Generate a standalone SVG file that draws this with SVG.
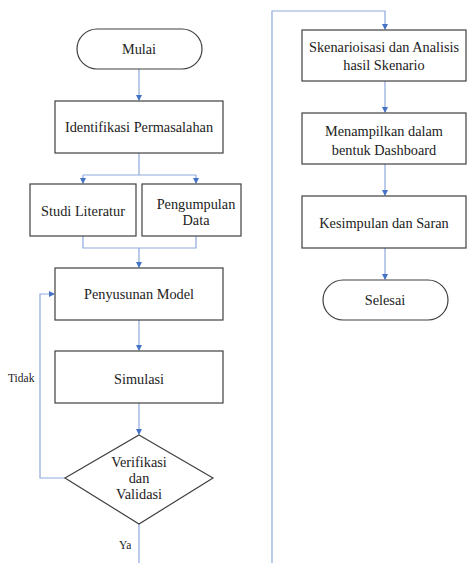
<svg xmlns="http://www.w3.org/2000/svg" width="467" height="563" viewBox="0 0 467 563">
<defs>
<marker id="ah" markerWidth="6" markerHeight="6" refX="5" refY="3" orient="auto" markerUnits="userSpaceOnUse">
<path d="M0,0 L6,3 L0,6 z" fill="#4472C4"/>
</marker>
<style>
.n{fill:#fff;stroke:#404040;stroke-width:1.2}
.c{fill:none;stroke:#8EA9DB;stroke-width:1.2}
</style>
</defs>
<rect width="467" height="563" fill="#fff"/>
<g id="connectors">
<path class="c" d="M139,69 V100" marker-end="url(#ah)"/>
<path class="c" d="M139,153 V175 M83,175 H196"/>
<path class="c" d="M83,175 V183" marker-end="url(#ah)"/>
<path class="c" d="M196,175 V183" marker-end="url(#ah)"/>
<path class="c" d="M83,236 V248 H196 V236 M139,248 V267" marker-end="url(#ah)"/>
<path class="c" d="M139,320 V350" marker-end="url(#ah)"/>
<path class="c" d="M139,403 V434" marker-end="url(#ah)"/>
<path class="c" d="M65,478 H40 V294 H54" marker-end="url(#ah)"/>
<path class="c" d="M139,524 V563"/>
<path class="c" d="M272,563 V11 H385 V29" marker-end="url(#ah)"/>
<path class="c" d="M385,81 V112" marker-end="url(#ah)"/>
<path class="c" d="M385,164 V195" marker-end="url(#ah)"/>
<path class="c" d="M385,248 V279" marker-end="url(#ah)"/>
</g>
<g fill="#222" font-size="14.3" text-anchor="middle" font-family="Liberation Serif">
<g id="mulai"><rect class="n" x="77" y="29" width="125" height="40" rx="20"/><text x="139" y="54">Mulai</text></g>
<g id="identifikasi"><rect class="n" x="55" y="101" width="168" height="52"/><text x="139" y="132">Identifikasi Permasalahan</text></g>
<g id="studi"><rect class="n" x="30" y="184" width="106" height="52"/><text x="83" y="216">Studi Literatur</text></g>
<g id="pengumpulan"><rect class="n" x="142" y="184" width="99" height="52"/><text x="196" y="209">Pengumpulan</text><text x="196" y="225">Data</text></g>
<g id="penyusunan"><rect class="n" x="55" y="268" width="168" height="52"/><text x="139" y="299">Penyusunan Model</text></g>
<g id="simulasi"><rect class="n" x="55" y="351" width="168" height="52"/><text x="139" y="384">Simulasi</text></g>
<g id="verifikasi"><path class="n" d="M139,435 L213,478 L139,524 L65,478 z"/><text x="139" y="467">Verifikasi</text><text x="139" y="483">dan</text><text x="139" y="499">Validasi</text></g>
<text font-size="11.5" text-anchor="start" x="8" y="382">Tidak</text>
<text font-size="11.5" text-anchor="start" x="119" y="549">Ya</text>
<g id="skenario"><rect class="n" x="302" y="30" width="164" height="51"/><text x="384" y="52">Skenarioisasi dan Analisis</text><text x="384" y="70">hasil Skenario</text></g>
<g id="menampilkan"><rect class="n" x="302" y="113" width="164" height="51"/><text x="384" y="136">Menampilkan dalam</text><text x="384" y="155">bentuk Dashboard</text></g>
<g id="kesimpulan"><rect class="n" x="302" y="196" width="164" height="52"/><text x="384" y="228">Kesimpulan dan Saran</text></g>
<g id="selesai"><rect class="n" x="323" y="280" width="125" height="40" rx="20"/><text x="385" y="305">Selesai</text></g>
</g>
</svg>
